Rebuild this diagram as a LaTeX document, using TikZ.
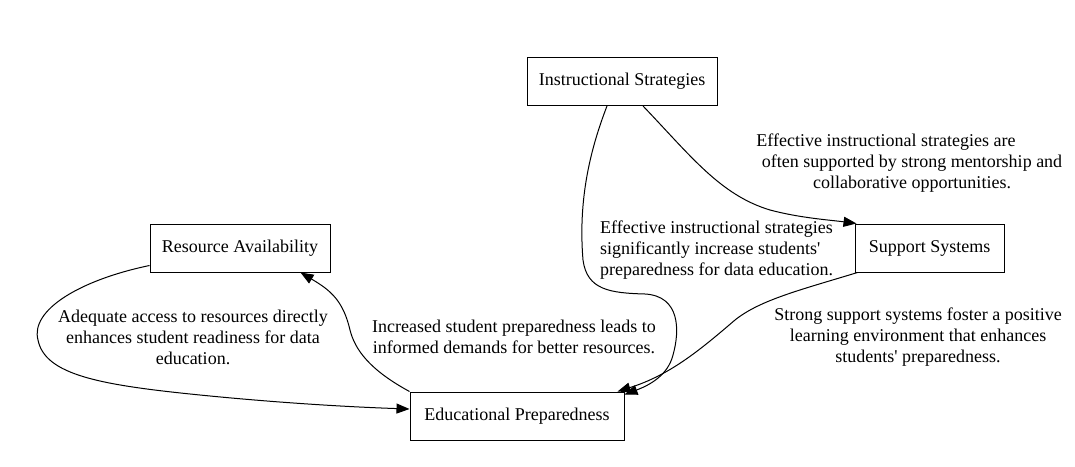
\documentclass[tikz,border=0pt]{standalone}
\usepackage{fontspec}
\setmainfont{Liberation Serif}
\usetikzlibrary{arrows.meta}
\begin{document}
\begin{tikzpicture}[x=1pt,y=-1pt,
  box/.style={draw,line width=1pt,minimum height=48pt,inner sep=0pt,font=\fontsize{18}{21}\selectfont},
  lbl/.style={inner sep=0pt,font=\fontsize{18}{21}\selectfont},
  edge/.style={line width=1pt,-{Triangle[length=13pt,width=10pt]}}]
\useasboundingbox (0,0) rectangle (1075,466);
\node[box,minimum width=190pt] (IS) at (622,81.5) {Instructional Strategies};
\node[box,minimum width=149pt] (SS) at (929.5,248) {Support Systems};
\node[box,minimum width=180pt] (RA) at (240,248) {Resource Availability};
\node[box,minimum width=214pt] (EP) at (517,416) {Educational Preparedness};

\draw[edge] ([xshift=21pt]IS.south) .. controls (690,155) and (720,195) .. (770,210)
  .. controls (800,218) and (830,220) .. ([xshift=2pt]SS.north west);
\draw[edge] ([xshift=-15pt]IS.south) .. controls (590,150) and (578,200) .. (583,260)
  .. controls (587,290) and (610,293) .. (645,294)
  .. controls (680,296) and (680,330) .. (673,355)
  .. controls (668,375) and (650,385) .. ([yshift=-3pt]EP.north east);
\draw[edge] ([xshift=3pt]SS.south west) .. controls (800,290) and (760,300) .. (735,320)
  .. controls (700,350) and (670,375) .. ([xshift=-7pt]EP.north east);
\draw[edge] (EP.north west) .. controls (370,370) and (355,350) .. (350,330)
  .. controls (343,300) and (330,290) .. ([xshift=-30pt]RA.south east);
\draw[edge] ([yshift=7pt]RA.south west) .. controls (80,280) and (30,310) .. (38,340)
  .. controls (45,375) and (100,385) .. (200,395)
  .. controls (280,403) and (350,407) .. ([yshift=7pt]EP.west);

\node[lbl,align=center] (l1) at (912,163) {Effective instructional strategies are\hspace*{52pt}\\often supported by strong mentorship and\\collaborative opportunities.};
\node[lbl,align=left,anchor=west] (l2) at (600,250) {Effective instructional strategies\\significantly increase students\textquotesingle\\preparedness for data education.};
\node[lbl,align=center] (l3) at (514,337) {Increased student preparedness leads to\\informed demands for better resources.};
\node[lbl,align=center] (l4) at (918,337) {Strong support systems foster a positive\\learning environment that enhances\hspace*{44pt}\\students\textquotesingle{} preparedness.};
\node[lbl,align=center] (l5) at (193,337) {Adequate access to resources directly\\enhances student readiness for data\hspace*{18pt}\\education.};
\end{tikzpicture}
\end{document}
